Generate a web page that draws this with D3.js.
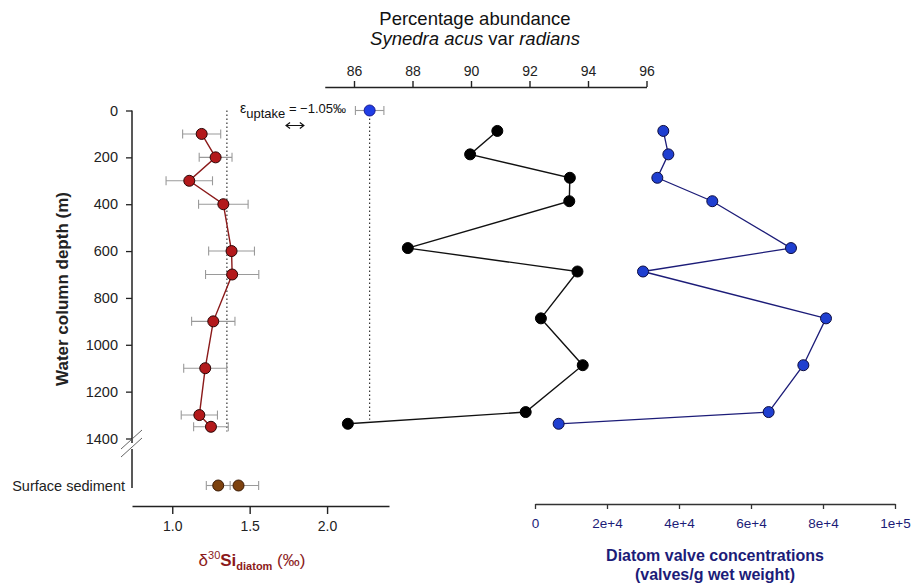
<!DOCTYPE html>
<html>
<head>
<meta charset="utf-8">
<script src="https://cdn.jsdelivr.net/npm/d3@7"></script>
<style>
  body { margin: 0; background: #fff; }
  svg { display: block; font-family: "Liberation Sans", Arial, sans-serif; }
</style>
</head>
<body>
<svg id="chart" width="912" height="586"></svg>
<script>
// sample depths (m) of the water column
const depths = [100, 200, 300, 400, 600, 700, 900, 1100, 1300, 1350];

// delta30Si of diatoms with 1 sd error
const d30Si = [1.19, 1.28, 1.11, 1.33, 1.383, 1.387, 1.265, 1.213, 1.175, 1.25];
const d30SiErr = [0.123, 0.106, 0.15, 0.16, 0.148, 0.172, 0.14, 0.139, 0.117, 0.112];

// surface sediment values
const sedimentSi = [1.297, 1.428];
const sedimentErr = [0.077, 0.13];

// dissolved Si at surface (blue point) and mean diatom value (dotted line)
const surfaceSi = [2.275];
const surfaceSiErr = [0.092];
const meanSi = 1.353;

// Synedra acus var radians, % abundance
const synedraPct = [90.9, 89.97, 93.38, 93.36, 87.84, 93.64, 92.39, 93.82, 91.87, 85.79];

// diatom valve concentration (valves / g wet weight)
const valveConc = [35640, 37040, 33980, 49250, 71110, 30000, 80830, 74540, 64900, 6570];

// tick labels
const depthTicks = [0, 200, 400, 600, 800, 1000, 1200, 1400];
const siTicks = [1.0, 1.5, 2.0];
const pctTicks = [86, 88, 90, 92, 94, 96];
const concTicks = [0, 20000, 40000, 60000, 80000, 100000];
const concLabels = ["0", "2e+4", "4e+4", "6e+4", "8e+4", "1e+5"];

const svg = d3.select("#chart");

// colours
const red = "#b3191b", redLine = "#8b1a1a", brown = "#7d420f";
const blue = "#1f3fd0", navy = "#1c1c78", grey = "#9a9a9a";

/*****
Scales
*****/
const yDepth = d3.scaleLinear().domain([0, 1400]).range([110.5, 438.5]);
// right hand panels sit a few px higher in the original
const yDepthR = d3.scaleLinear().domain([0, 1400]).range([107.5, 435.5]);
const xSi = d3.scaleLinear().domain([0.74, 2.4]).range([132, 389]);
const xPct = d3.scaleLinear().domain([85, 96]).range([324.75, 646.5]);
const xConc = d3.scaleLinear().domain([0, 100000]).range([535, 895]);
const ySed = 485.5;

/*****
Axes
*****/
// depth axis
const gy = svg.append("g").attr("transform", "translate(132,0)")
  .call(d3.axisLeft(yDepth).tickValues(depthTicks).tickFormat(d3.format("d")).tickSize(6).tickPadding(8));
gy.select(".domain").remove();
gy.selectAll("text").attr("font-size", 14.5).attr("fill", "#222").attr("font-family", "Liberation Sans, Arial");
gy.selectAll("line").attr("stroke", "#222").attr("stroke-width", 1.3);

// axis line with the break
svg.append("line").attr("x1", 132).attr("x2", 132).attr("y1", yDepth(0)).attr("y2", 443)
  .attr("stroke", "#222").attr("stroke-width", 1.5);
svg.append("line").attr("x1", 132).attr("x2", 132).attr("y1", 449).attr("y2", 488)
  .attr("stroke", "#222").attr("stroke-width", 1.5);
[0, 8].forEach(function(o) {
  svg.append("line").attr("x1", 121).attr("y1", 449 + o).attr("x2", 142).attr("y2", 430 + o)
    .attr("stroke", "#555").attr("stroke-width", 0.9);
});

svg.append("text").attr("x", 125).attr("y", ySed + 5).attr("text-anchor", "end")
  .attr("font-size", 14.5).attr("fill", "#222").text("Surface sediment");

svg.append("text").attr("transform", "translate(68,289) rotate(-90)")
  .attr("text-anchor", "middle").attr("font-size", 17).attr("font-weight", "bold")
  .attr("fill", "#222").text("Water column depth (m)");

// d30Si axis
const gx = svg.append("g").attr("transform", "translate(0,506)")
  .call(d3.axisBottom(xSi).tickValues(siTicks).tickFormat(d3.format(".1f")).tickSize(8).tickSizeOuter(0).tickPadding(7));
gx.selectAll("text").attr("font-size", 14).attr("fill", "#222").attr("font-family", "Liberation Sans, Arial");
gx.selectAll("line, path").attr("stroke", "#222").attr("stroke-width", 1.4);

const tSi = svg.append("text").attr("x", 252).attr("y", 566).attr("text-anchor", "middle")
  .attr("fill", redLine).attr("font-size", 17);
tSi.append("tspan").text("δ");
tSi.append("tspan").attr("font-size", 11).attr("dy", -7).text("30");
tSi.append("tspan").attr("font-weight", "bold").attr("dy", 7).text("Si");
tSi.append("tspan").attr("font-weight", "bold").attr("font-size", 11).attr("dy", 4).text("diatom");
tSi.append("tspan").attr("dy", -4).text(" (‰)");

// percentage axis (top)
const gp = svg.append("g").attr("transform", "translate(0,87)")
  .call(d3.axisTop(xPct).tickValues(pctTicks).tickSize(6).tickSizeOuter(0).tickPadding(5));
gp.selectAll("text").attr("font-size", 14).attr("fill", "#222").attr("font-family", "Liberation Sans, Arial");
gp.selectAll("line, path").attr("stroke", "#222").attr("stroke-width", 1.4);

svg.append("text").attr("x", 475).attr("y", 25).attr("text-anchor", "middle")
  .attr("font-size", 18.5).attr("fill", "#111").text("Percentage abundance");
const tSyn = svg.append("text").attr("x", 475).attr("y", 45).attr("text-anchor", "middle")
  .attr("font-size", 18.5).attr("fill", "#111");
tSyn.append("tspan").attr("font-style", "italic").text("Synedra acus");
tSyn.append("tspan").text(" var ");
tSyn.append("tspan").attr("font-style", "italic").text("radians");

// concentration axis
const gc = svg.append("g").attr("transform", "translate(0,504)")
  .call(d3.axisBottom(xConc).tickValues(concTicks).tickFormat(function(d, i) { return concLabels[i]; })
    .tickSize(5).tickSizeOuter(0).tickPadding(9));
gc.selectAll("text").attr("font-size", 13.5).attr("fill", navy).attr("font-family", "Liberation Sans, Arial");
gc.selectAll("line, path").attr("stroke", "#333").attr("stroke-width", 1.3);

svg.append("text").attr("x", 715).attr("y", 561).attr("text-anchor", "middle")
  .attr("font-size", 16).attr("font-weight", "bold").attr("fill", navy).text("Diatom valve concentrations");
svg.append("text").attr("x", 715).attr("y", 580).attr("text-anchor", "middle")
  .attr("font-size", 16).attr("font-weight", "bold").attr("fill", navy).text("(valves/g wet weight)");

/*****
Helpers
*****/
function errorBars(data, cy) {
  const g = svg.append("g").attr("stroke", grey).attr("stroke-width", 1.1).attr("fill", "none");
  data.forEach(function(d) {
    const x0 = xSi(d.v - d.e), x1 = xSi(d.v + d.e), y = cy(d);
    g.append("line").attr("x1", x0).attr("x2", x1).attr("y1", y).attr("y2", y);
    g.append("line").attr("x1", x0).attr("x2", x0).attr("y1", y - 4.5).attr("y2", y + 4.5);
    g.append("line").attr("x1", x1).attr("x2", x1).attr("y1", y - 4.5).attr("y2", y + 4.5);
  });
}

function profile(xs, ys, lineColor, fill, stroke, lw) {
  const pts = depths.map(function(d, i) { return [xs[i], ys(d)]; });
  svg.append("path").attr("d", d3.line()(pts)).attr("fill", "none")
    .attr("stroke", lineColor).attr("stroke-width", lw);
  svg.append("g").selectAll("circle").data(pts).enter().append("circle")
    .attr("cx", function(p) { return p[0]; }).attr("cy", function(p) { return p[1]; })
    .attr("r", 5.5).attr("fill", fill).attr("stroke", stroke).attr("stroke-width", 1);
}

/*****
Left panel - d30Si
*****/
// dotted reference lines
svg.append("line").attr("x1", xSi(meanSi)).attr("x2", xSi(meanSi))
  .attr("y1", yDepth(0)).attr("y2", yDepth(1370))
  .attr("stroke", "#222").attr("stroke-width", 1.1).attr("stroke-dasharray", "1.5,2.5");
svg.append("line").attr("x1", xSi(surfaceSi[0])).attr("x2", xSi(surfaceSi[0]))
  .attr("y1", yDepth(0)).attr("y2", yDepth(1320))
  .attr("stroke", "#222").attr("stroke-width", 1.1).attr("stroke-dasharray", "1.5,2.5");

const siData = depths.map(function(d, i) { return {d: d, v: d30Si[i], e: d30SiErr[i]}; });
errorBars(siData, function(p) { return yDepth(p.d); });
const sedData = sedimentSi.map(function(v, i) { return {v: v, e: sedimentErr[i]}; });
errorBars(sedData, function() { return ySed; });
const surfData = surfaceSi.map(function(v, i) { return {d: 0, v: v, e: surfaceSiErr[i]}; });
errorBars(surfData, function(p) { return yDepth(p.d); });

profile(d30Si.map(function(v) { return xSi(v); }), yDepth, redLine, red, "#2a0505", 1.4);

svg.append("g").selectAll("circle").data(sedimentSi).enter().append("circle")
  .attr("cx", function(v) { return xSi(v); }).attr("cy", ySed)
  .attr("r", 5.5).attr("fill", brown).attr("stroke", "#3a1a05").attr("stroke-width", 1);

svg.append("circle").attr("cx", xSi(surfaceSi[0])).attr("cy", yDepth(0))
  .attr("r", 5.5).attr("fill", "#1f3ee6").attr("stroke", "#1a1a90").attr("stroke-width", 1);

// epsilon annotation
const tEps = svg.append("text").attr("x", 240).attr("y", 113).attr("font-size", 13).attr("fill", "#111");
tEps.append("tspan").attr("font-size", 14).text("ε");
tEps.append("tspan").attr("dy", 5).text("uptake");
tEps.append("tspan").attr("dy", -5).text(" = −1.05‰");

const ax0 = xSi(1.735), ax1 = xSi(1.85), ay = 125.5;
svg.append("path")
  .attr("d", "M" + ax0 + "," + ay + "H" + ax1 +
    "M" + (ax0 + 4) + "," + (ay - 3) + "L" + ax0 + "," + ay + "L" + (ax0 + 4) + "," + (ay + 3) +
    "M" + (ax1 - 4) + "," + (ay - 3) + "L" + ax1 + "," + ay + "L" + (ax1 - 4) + "," + (ay + 3))
  .attr("fill", "none").attr("stroke", "#111").attr("stroke-width", 1.2);

/*****
Right panels - abundance and concentrations
*****/
profile(synedraPct.map(function(v) { return xPct(v); }), yDepthR, "#111", "#000", "#000", 1.4);
profile(valveConc.map(function(v) { return xConc(v); }), yDepthR, navy, blue, "#0d0d40", 1.3);
</script>
</body>
</html>
